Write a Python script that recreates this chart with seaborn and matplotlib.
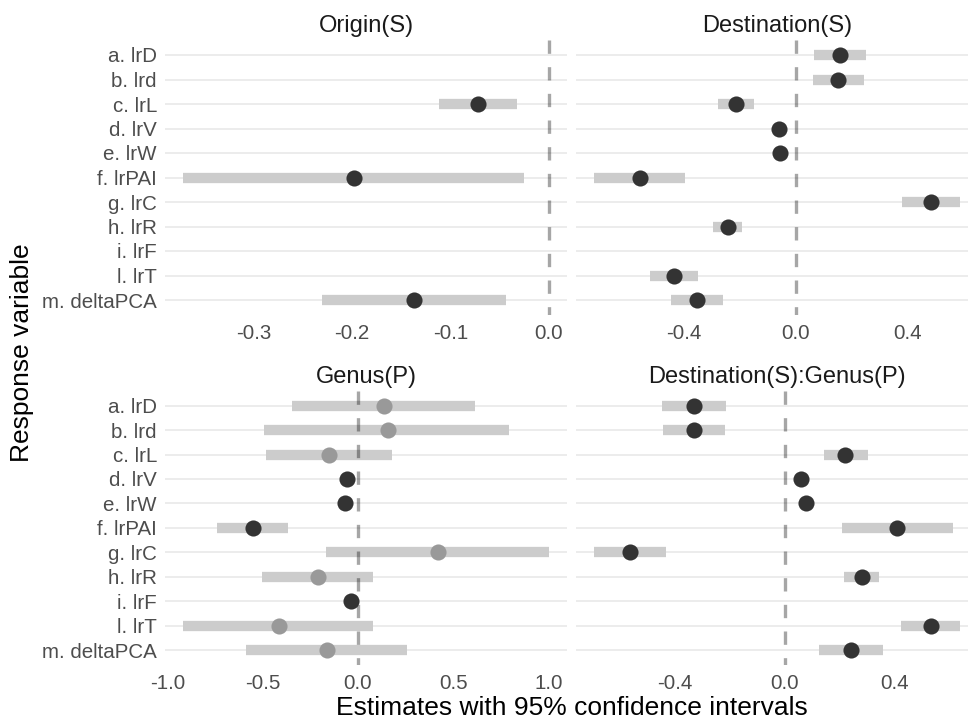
import numpy as np
import pandas as pd
import matplotlib
matplotlib.use("Agg")
import matplotlib.pyplot as plt
import seaborn as sns

# Response variables, top to bottom
responses = ["a. lrD", "b. lrd", "c. lrL", "d. lrV", "e. lrW", "f. lrPAI",
             "g. lrC", "h. lrR", "i. lrF", "l. lrT", "m. deltaPCA"]

nan = np.nan

# Origin(S)
origin_est = [nan, nan, -0.072, nan, nan, -0.198, nan, nan, nan, nan, -0.137]
origin_lo = [nan, nan, -0.112, nan, nan, -0.372, nan, nan, nan, nan, -0.231]
origin_hi = [nan, nan, -0.032, nan, nan, -0.025, nan, nan, nan, nan, -0.043]

# Destination(S)
dest_est = [0.159, 0.153, -0.212, -0.059, -0.054, -0.558, 0.485, -0.242, nan, -0.435, -0.354]
dest_lo = [0.067, 0.061, -0.278, -0.075, -0.070, -0.721, 0.381, -0.295, nan, -0.522, -0.447]
dest_hi = [0.253, 0.245, -0.149, -0.043, -0.038, -0.397, 0.588, -0.192, nan, -0.349, -0.259]

# Genus(P)
genus_est = [0.137, 0.156, -0.150, -0.060, -0.070, -0.552, 0.419, -0.210, -0.036, -0.417, -0.162]
genus_lo = [-0.348, -0.491, -0.483, -0.080, -0.090, -0.739, -0.167, -0.502, -0.050, -0.917, -0.586]
genus_hi = [0.612, 0.794, 0.180, -0.040, -0.050, -0.368, 1.001, 0.079, -0.022, 0.080, 0.255]

# Destination(S):Genus(P)
inter_est = [-0.332, -0.331, 0.220, 0.057, 0.077, 0.409, -0.563, 0.281, nan, 0.531, 0.240]
inter_lo = [-0.446, -0.444, 0.141, 0.045, 0.065, 0.209, -0.693, 0.216, nan, 0.423, 0.123]
inter_hi = [-0.215, -0.216, 0.301, 0.069, 0.089, 0.612, -0.433, 0.344, nan, 0.636, 0.356]

panel_titles = ["Origin(S)", "Destination(S)", "Genus(P)", "Destination(S):Genus(P)"]
panel_ticks = [[-0.3, -0.2, -0.1, 0.0],
               [-0.4, 0.0, 0.4],
               [-1.0, -0.5, 0.0, 0.5, 1.0],
               [-0.4, 0.0, 0.4]]
panel_data = [(origin_est, origin_lo, origin_hi),
              (dest_est, dest_lo, dest_hi),
              (genus_est, genus_lo, genus_hi),
              (inter_est, inter_lo, inter_hi)]

sns.set_theme(style="white")
plt.rcParams["font.family"] = ["Liberation Sans", "DejaVu Sans"]
plt.rcParams["axes.unicode_minus"] = False

W, H = 968, 721
fig = plt.figure(figsize=(W / 100, H / 100), dpi=100)
fig.patch.set_facecolor("white")


def px_axes(x0, y0, x1, y1):
    return fig.add_axes([x0 / W, 1 - y1 / H, (x1 - x0) / W, (y1 - y0) / H])


# panel boxes in pixels (left, top, right, bottom)
boxes = [(165, 40.3, 567, 314.7), (576, 40.3, 978, 314.7),
         (165, 391, 567, 664.7), (576, 391, 978, 664.7)]

ypos = np.arange(len(responses))
TICK_COL = "#4D4D4D"

for i, (box, title, ticks, (est, lo, hi)) in enumerate(
        zip(boxes, panel_titles, panel_ticks, panel_data)):
    ax = px_axes(*box)
    df = pd.DataFrame({"response": responses, "est": est, "lo": lo, "hi": hi})
    df["sig"] = np.where((df["lo"] > 0) | (df["hi"] < 0), "yes", "no")

    # confidence intervals
    ax.hlines(ypos, df["lo"], df["hi"], color="#CCCCCC", lw=7.4,
              capstyle="butt", zorder=2)
    # zero reference
    ax.plot([0, 0], [1, 0], transform=ax.get_xaxis_transform(),
            color="black", alpha=0.35, lw=2.4, linestyle=(0, (4, 4)),
            zorder=3)
    # point estimates
    pts = df.dropna(subset=["est"])
    sns.stripplot(data=pts, x="est", y="response", order=responses,
                  hue="sig", hue_order=["yes", "no"],
                  palette={"yes": "#333333", "no": "#999999"},
                  jitter=False, size=11.6, linewidth=0, legend=False,
                  orient="h", ax=ax, zorder=4)

    # ggplot-style 5% expansion of the data range (including zero)
    vals = np.concatenate([df["lo"].dropna(), df["hi"].dropna(), [0.0]])
    lo_v, hi_v = vals.min(), vals.max()
    span = hi_v - lo_v
    ax.set_xlim(lo_v - 0.05 * span, hi_v + 0.05 * span)
    ax.set_ylim(len(responses) - 1 + 0.6, -0.6)

    ax.set_xticks(ticks)
    ax.set_xticklabels([f"{t:.1f}" for t in ticks])
    ax.set_yticks(ypos)
    if i % 2 == 0:
        ax.set_yticklabels(responses)
    else:
        ax.set_yticklabels([])
    ax.tick_params(axis="both", length=0, labelsize=14.8, colors=TICK_COL)
    ax.tick_params(axis="x", pad=6.8)
    ax.tick_params(axis="y", pad=5.8)
    ax.grid(axis="y", color="#EBEBEB", lw=1.3)
    ax.grid(axis="x", visible=False)
    ax.set_axisbelow(True)
    for s in ax.spines.values():
        s.set_visible(False)
    ax.set_xlabel("")
    ax.set_ylabel("")
    ax.set_title(title, fontsize=17, color="#1A1A1A", pad=6)

fig.text((165 + 978) / 2 / W, 1 - 708.3 / H,
         "Estimates with 95% confidence intervals",
         ha="center", va="center", fontsize=19, color="black")
fig.text(21.7 / W, 1 - 352.5 / H, "Response variable", rotation=90,
         ha="center", va="center", fontsize=19, color="black")

fig.savefig("out.png", dpi=100)
